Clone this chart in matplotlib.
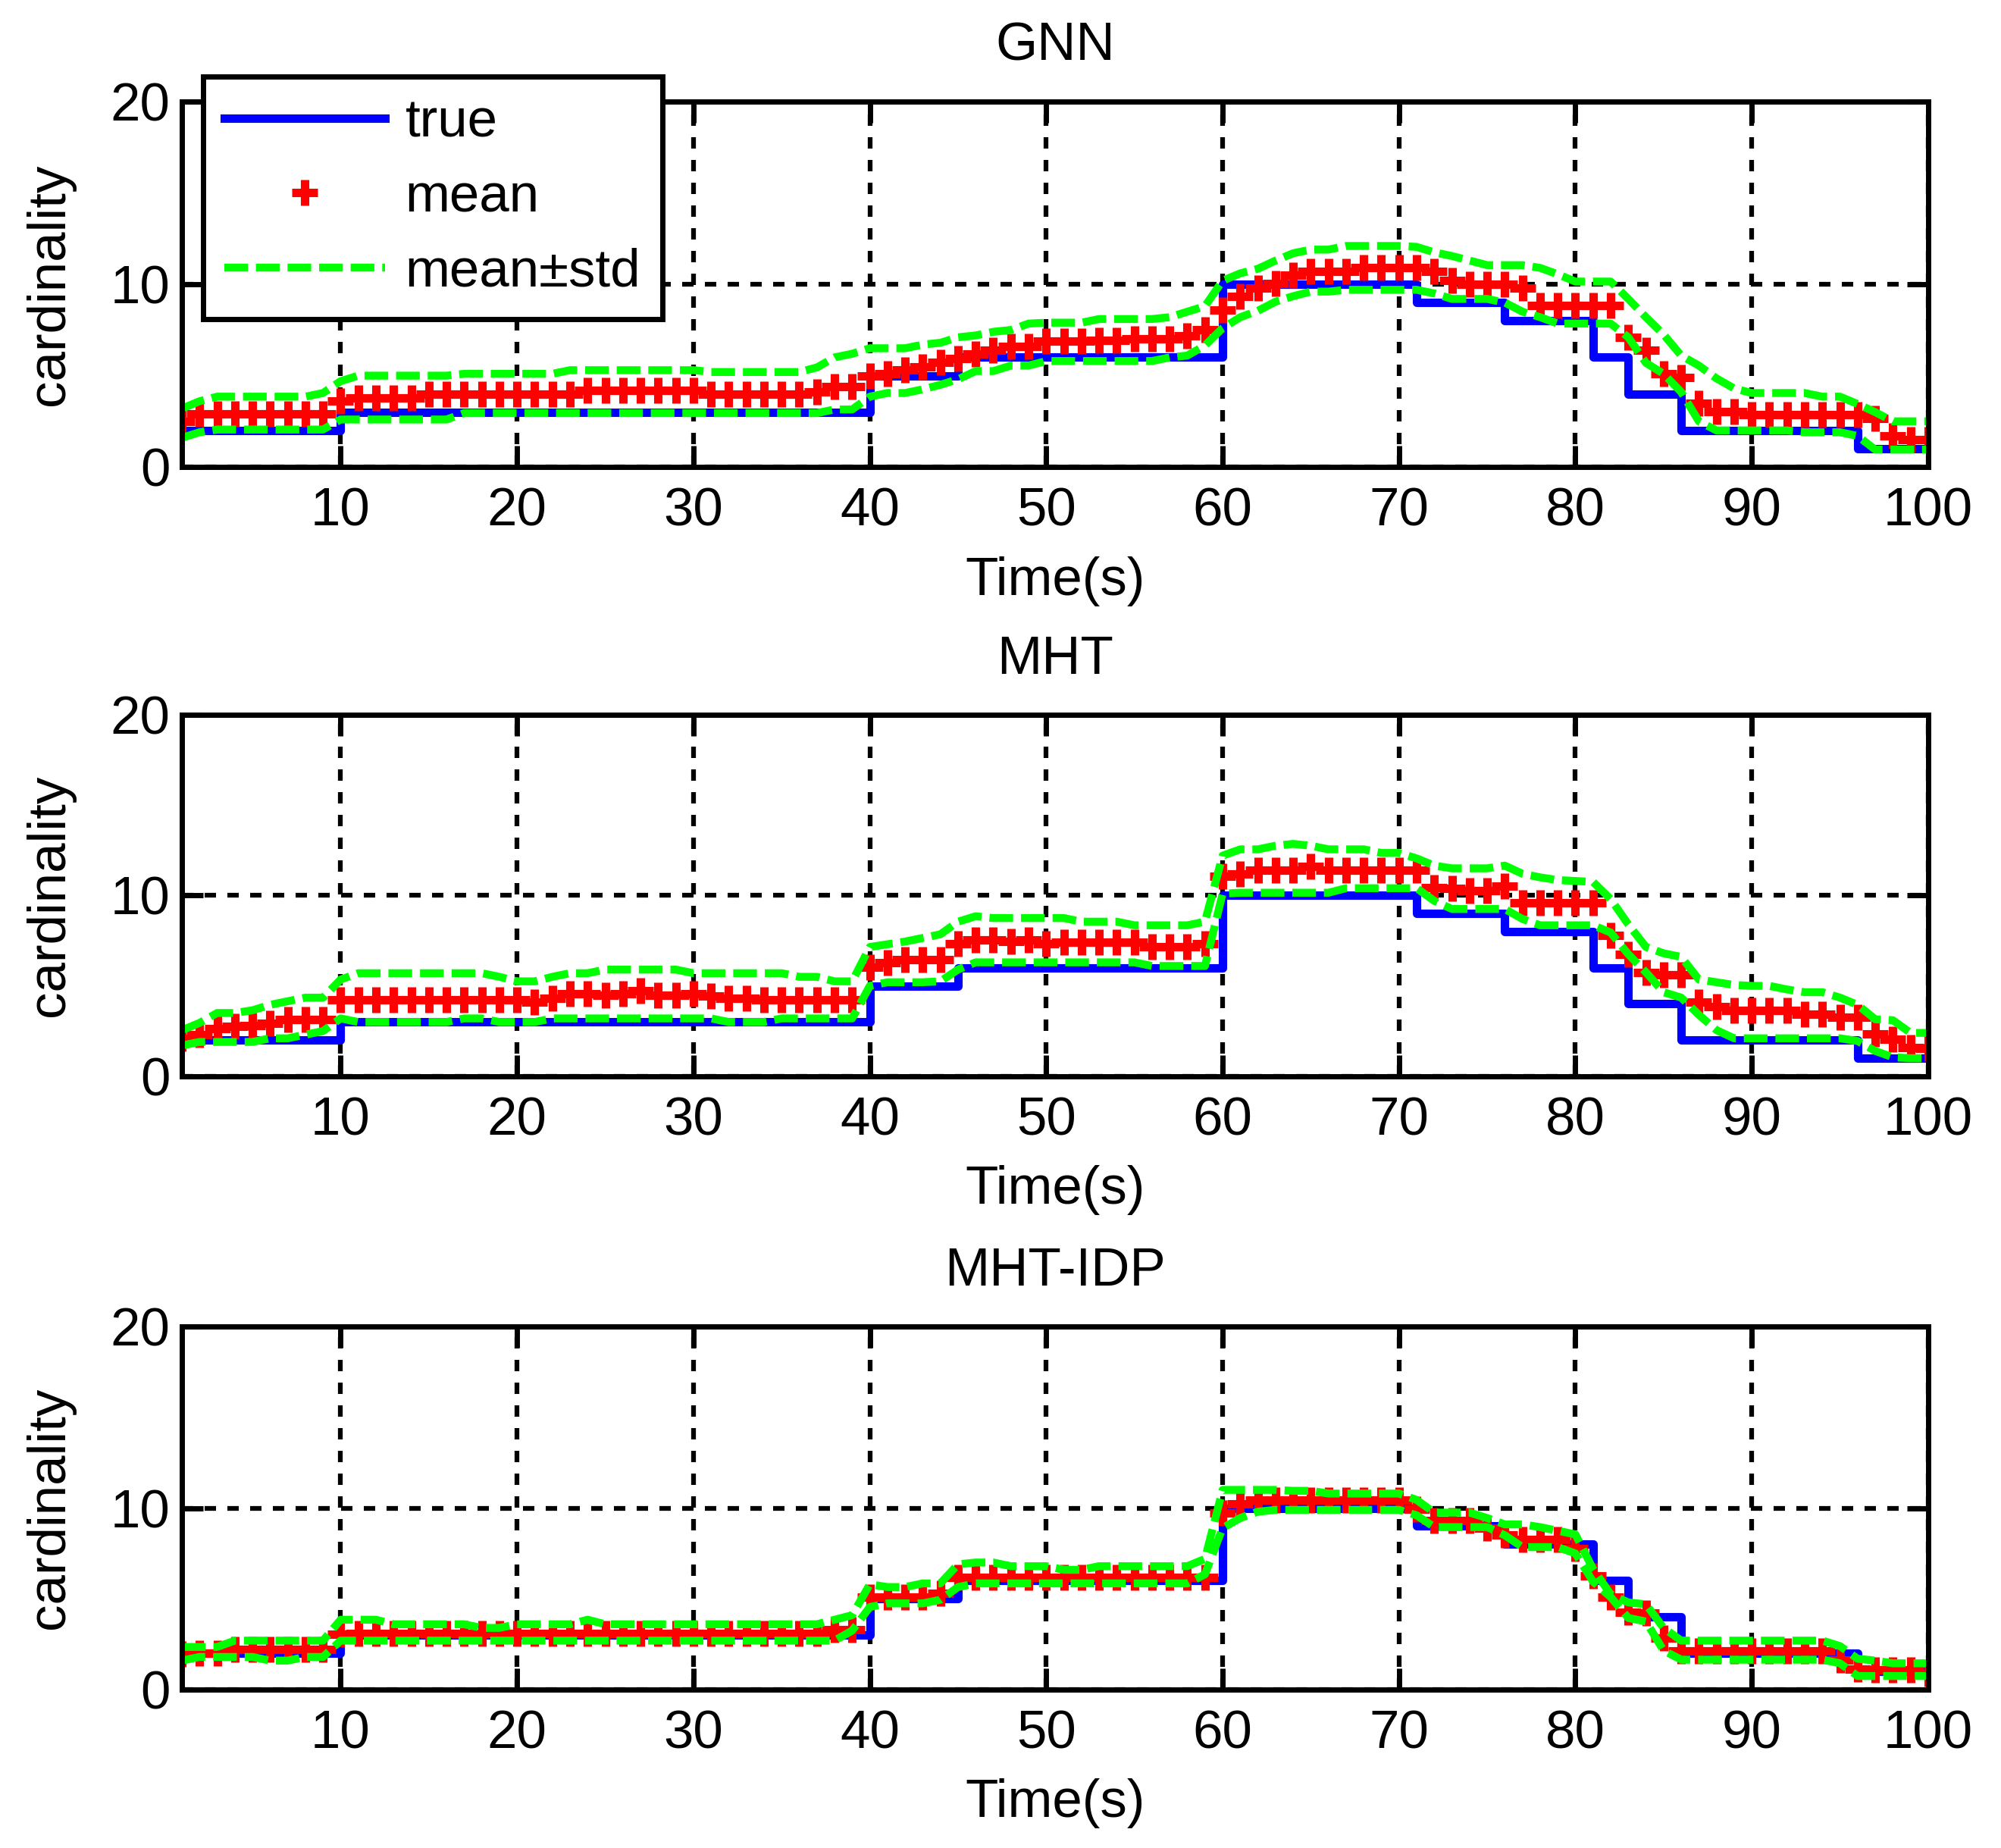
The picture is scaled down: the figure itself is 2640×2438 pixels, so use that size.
import matplotlib
matplotlib.use('Agg')
import matplotlib.pyplot as plt

plt.rcParams['font.family'] = ['Liberation Sans', 'DejaVu Sans']

# time steps (s)
time = list(range(1, 101))

# true cardinality (same ground truth in every panel)
truth = [2, 2, 2, 2, 2, 2, 2, 2, 2, 3,
         3, 3, 3, 3, 3, 3, 3, 3, 3, 3,
         3, 3, 3, 3, 3, 3, 3, 3, 3, 3,
         3, 3, 3, 3, 3, 3, 3, 3, 3, 5,
         5, 5, 5, 5, 6, 6, 6, 6, 6, 6,
         6, 6, 6, 6, 6, 6, 6, 6, 6, 10,
         10, 10, 10, 10, 10, 10, 10, 10, 10, 10,
         9, 9, 9, 9, 9, 8, 8, 8, 8, 8,
         6, 6, 4, 4, 4, 2, 2, 2, 2, 2,
         2, 2, 2, 2, 2, 1, 1, 1, 1, 1]

# GNN
gnn_mean = [2.5, 2.9, 2.9, 2.9, 2.9, 2.9, 2.9, 2.9, 2.9, 3.6,
            3.8, 3.8, 3.8, 3.8, 4.0, 4.0, 4.0, 4.0, 4.0, 4.0,
            4.0, 4.0, 4.0, 4.2, 4.2, 4.2, 4.2, 4.2, 4.2, 4.2,
            4.0, 4.0, 4.0, 4.0, 4.0, 4.0, 4.1, 4.4, 4.4, 5.0,
            5.1, 5.3, 5.5, 5.75, 5.95, 6.2, 6.4, 6.6, 6.6, 6.9,
            6.9, 6.9, 6.95, 6.95, 7.0, 7.0, 7.0, 7.2, 7.5, 8.6,
            9.35, 9.8, 10.05, 10.5, 10.7, 10.7, 10.7, 10.9, 10.9, 10.9,
            10.9, 10.7, 10.2, 10.0, 10.0, 10.0, 9.8, 8.85, 8.85, 8.85,
            8.85, 8.85, 7.1, 6.4, 5.1, 4.9, 3.5, 3.05, 3.05, 2.85,
            2.85, 2.85, 2.85, 2.85, 2.85, 2.85, 2.65, 1.7, 1.5, 1.5]
gnn_upper = [3.2, 3.6, 3.85, 3.85, 3.85, 3.85, 3.85, 3.85, 4.05, 4.7,
             5.0, 5.0, 5.0, 5.0, 5.0, 5.0, 5.1, 5.1, 5.1, 5.1,
             5.1, 5.1, 5.3, 5.3, 5.3, 5.3, 5.3, 5.3, 5.3, 5.3,
             5.2, 5.2, 5.2, 5.2, 5.2, 5.2, 5.45, 6.0, 6.2, 6.5,
             6.5, 6.5, 6.7, 6.8, 7.1, 7.2, 7.4, 7.5, 7.85, 7.9,
             7.9, 7.9, 8.1, 8.1, 8.1, 8.1, 8.2, 8.5, 8.8, 10.2,
             10.6, 10.85, 11.3, 11.7, 11.9, 11.9, 12.1, 12.1, 12.1, 12.1,
             12.05, 11.75, 11.55, 11.3, 11.05, 11.05, 11.05, 10.9, 10.55, 10.15,
             10.15, 10.15, 9.2, 8.2, 7.25, 6.1, 5.55, 4.85, 4.3, 4.05,
             4.05, 4.05, 4.05, 3.85, 3.85, 3.45, 3.0, 2.5, 2.5, 2.5]
gnn_lower = [1.6, 1.9, 2.05, 2.05, 2.05, 2.05, 2.05, 2.05, 2.05, 2.6,
             2.6, 2.6, 2.6, 2.6, 2.6, 2.6, 2.95, 2.95, 2.95, 2.95,
             2.95, 2.95, 2.95, 2.95, 2.95, 2.95, 2.95, 2.95, 2.95, 2.95,
             2.95, 2.95, 2.95, 2.95, 2.95, 2.95, 2.95, 3.15, 3.15, 3.85,
             4.05, 4.05, 4.25, 4.5, 4.8, 5.25, 5.25, 5.55, 5.55, 5.8,
             5.8, 5.8, 5.8, 5.8, 5.8, 5.8, 6.0, 6.1, 6.65, 7.6,
             8.2, 8.55, 9.05, 9.35, 9.6, 9.6, 9.7, 9.7, 9.7, 9.7,
             9.7, 9.5, 9.2, 9.2, 9.2, 9.0, 8.5, 8.2, 7.85, 7.85,
             7.85, 7.85, 7.1, 5.7, 5.1, 4.1, 2.5, 2.0, 2.0, 2.0,
             2.0, 2.0, 1.9, 1.9, 1.9, 1.7, 0.95, 0.95, 0.95, 0.95]

# MHT
mht_mean = [2.1, 2.3, 2.65, 2.75, 2.8, 2.95, 3.15, 3.15, 3.15, 4.25,
            4.25, 4.25, 4.25, 4.25, 4.25, 4.25, 4.25, 4.25, 4.25, 4.25,
            4.1, 4.3, 4.55, 4.55, 4.5, 4.55, 4.75, 4.5, 4.5, 4.55,
            4.45, 4.3, 4.3, 4.25, 4.25, 4.25, 4.25, 4.25, 4.25, 6.05,
            6.3, 6.45, 6.45, 6.45, 7.35, 7.55, 7.55, 7.45, 7.55, 7.35,
            7.4, 7.4, 7.4, 7.4, 7.4, 7.15, 7.15, 7.15, 7.35, 11.05,
            11.2, 11.4, 11.4, 11.4, 11.6, 11.4, 11.4, 11.4, 11.4, 11.4,
            11.4, 10.45, 10.4, 10.25, 10.25, 10.5, 9.6, 9.6, 9.6, 9.6,
            9.6, 7.8, 6.75, 5.75, 5.6, 5.6, 4.1, 3.85, 3.65, 3.65,
            3.65, 3.65, 3.45, 3.45, 3.25, 3.25, 2.35, 2.05, 1.6, 1.55]
mht_upper = [2.55, 2.95, 3.5, 3.5, 3.65, 3.95, 4.15, 4.35, 4.35, 5.35,
             5.7, 5.7, 5.7, 5.7, 5.7, 5.7, 5.7, 5.7, 5.5, 5.25,
             5.25, 5.5, 5.7, 5.7, 5.9, 5.9, 5.9, 5.9, 5.9, 5.7,
             5.7, 5.7, 5.7, 5.7, 5.7, 5.5, 5.5, 5.25, 5.25, 7.15,
             7.3, 7.45, 7.65, 7.85, 8.55, 8.85, 8.75, 8.75, 8.75, 8.75,
             8.75, 8.55, 8.55, 8.55, 8.35, 8.35, 8.35, 8.35, 8.55, 12.2,
             12.55, 12.55, 12.75, 12.85, 12.75, 12.55, 12.55, 12.55, 12.35, 12.35,
             12.05, 11.65, 11.5, 11.5, 11.5, 11.65, 11.2, 11.0, 10.85, 10.8,
             10.75, 9.8, 8.4, 7.15, 6.8, 6.6, 5.35, 5.2, 5.05, 5.0,
             5.0, 4.8, 4.65, 4.65, 4.35, 3.95, 3.15, 3.1, 2.4, 2.4]
mht_lower = [1.7, 1.9, 1.9, 1.9, 1.9, 2.1, 2.1, 2.3, 2.5, 3.2,
             3.0, 3.0, 3.0, 3.0, 3.0, 3.0, 3.2, 3.2, 3.0, 3.0,
             3.0, 3.2, 3.2, 3.2, 3.2, 3.2, 3.2, 3.2, 3.2, 3.2,
             3.2, 3.0, 3.0, 3.0, 3.2, 3.2, 3.2, 3.2, 3.2, 5.0,
             5.2, 5.2, 5.2, 5.25, 5.9, 6.3, 6.3, 6.3, 6.3, 6.3,
             6.3, 6.3, 6.3, 6.3, 6.3, 6.1, 6.1, 6.1, 6.1, 10.1,
             10.15, 10.15, 10.15, 10.15, 10.15, 10.15, 10.4, 10.4, 10.4, 10.4,
             10.4, 9.7, 9.25, 9.25, 9.25, 9.25, 8.7, 8.35, 8.35, 8.35,
             8.35, 7.95, 6.75, 5.75, 4.65, 4.35, 3.4, 2.55, 2.1, 2.1,
             2.1, 2.1, 2.1, 2.1, 2.1, 1.95, 1.4, 1.05, 1.0, 1.0]

# MHT-IDP
idp_mean = [1.95, 2.0, 2.0, 2.2, 2.2, 2.2, 2.2, 2.2, 2.2, 3.05,
            3.1, 3.1, 3.1, 3.1, 3.1, 3.1, 3.1, 3.1, 3.1, 3.1,
            3.1, 3.1, 3.1, 3.1, 3.1, 3.1, 3.1, 3.1, 3.1, 3.1,
            3.1, 3.1, 3.1, 3.1, 3.1, 3.1, 3.1, 3.3, 3.3, 5.1,
            5.1, 5.1, 5.1, 5.3, 6.2, 6.2, 6.2, 6.2, 6.2, 6.2,
            6.2, 6.2, 6.2, 6.2, 6.2, 6.2, 6.2, 6.2, 6.2, 9.75,
            10.25, 10.45, 10.45, 10.45, 10.45, 10.45, 10.45, 10.45, 10.45, 10.45,
            9.95, 9.3, 9.3, 9.3, 8.9, 8.5, 8.25, 8.25, 8.25, 7.75,
            6.25, 5.1, 4.25, 4.2, 2.85, 2.15, 2.15, 2.15, 2.15, 2.15,
            2.15, 2.15, 2.15, 2.15, 1.65, 1.15, 1.1, 1.1, 1.1, 0.9]
idp_upper = [2.35, 2.35, 2.35, 2.7, 2.7, 2.7, 2.7, 2.7, 2.7, 3.85,
             3.85, 3.85, 3.6, 3.6, 3.6, 3.6, 3.6, 3.4, 3.4, 3.6,
             3.6, 3.6, 3.6, 3.85, 3.6, 3.6, 3.6, 3.6, 3.6, 3.6,
             3.6, 3.6, 3.6, 3.6, 3.6, 3.6, 3.6, 3.85, 4.1, 5.8,
             5.65, 5.65, 5.85, 5.85, 6.9, 7.0, 7.0, 6.8, 6.8, 6.8,
             6.6, 6.6, 6.8, 6.8, 6.8, 6.8, 6.8, 6.8, 7.2, 11.0,
             11.0, 11.0, 11.0, 10.95, 10.95, 10.8, 10.8, 10.8, 10.8, 10.8,
             10.45, 9.75, 9.75, 9.75, 9.45, 9.1, 9.1, 8.95, 8.75, 8.55,
             6.65, 5.25, 4.8, 4.7, 3.4, 2.7, 2.7, 2.7, 2.7, 2.7,
             2.7, 2.7, 2.7, 2.7, 2.4, 1.7, 1.6, 1.45, 1.45, 1.45]
idp_lower = [1.6, 1.8, 1.8, 1.8, 1.8, 1.6, 1.6, 1.8, 1.8, 2.7,
             2.7, 2.7, 2.7, 2.7, 2.7, 2.7, 2.7, 2.7, 2.7, 2.7,
             2.7, 2.7, 2.7, 2.7, 2.7, 2.7, 2.7, 2.7, 2.7, 2.7,
             2.7, 2.7, 2.7, 2.7, 2.7, 2.7, 2.7, 2.7, 3.25, 4.55,
             4.75, 4.75, 4.75, 4.95, 5.65, 5.85, 5.85, 5.85, 5.85, 5.85,
             5.85, 5.85, 5.85, 5.85, 5.85, 5.85, 5.85, 5.85, 6.35, 8.9,
             9.45, 9.8, 9.9, 9.9, 9.9, 9.9, 9.9, 9.9, 9.9, 9.9,
             9.6, 8.95, 8.95, 8.95, 8.95, 8.5, 7.85, 7.85, 7.85, 7.5,
             5.95, 5.1, 3.95, 3.75, 2.15, 1.65, 1.65, 1.65, 1.65, 1.65,
             1.65, 1.65, 1.65, 1.65, 1.45, 0.75, 0.75, 0.75, 0.75, 0.75]

panels = [('GNN', gnn_mean, gnn_upper, gnn_lower),
          ('MHT', mht_mean, mht_upper, mht_lower),
          ('MHT-IDP', idp_mean, idp_upper, idp_lower)]

# axes boxes [left, bottom, width, height] in figure fractions
boxes = [[0.0909, 0.7473, 0.8727, 0.1977],
         [0.0909, 0.4176, 0.8727, 0.1957],
         [0.0909, 0.0857, 0.8727, 0.1965]]

fs = 51
fig = plt.figure(figsize=(26.4, 24.38), dpi=100)

for k, (name, mean, upper, lower) in enumerate(panels):
    ax = fig.add_axes(boxes[k])
    ax.step(time, truth, where='post', color='#0000ff', lw=8, label='true')
    ax.plot(time, mean, ls='none', marker='+', ms=24, mew=8, color='#ff0000', label='mean')
    ax.plot(time, upper, color='#00ff00', lw=7.5, ls=(0, (3.0, 1.0)), label='mean\u00b1std')
    ax.plot(time, lower, color='#00ff00', lw=7.5, ls=(0, (3.0, 1.0)), label='_nolegend_')

    ax.set_xlim(1, 100)
    ax.set_ylim(0, 20)
    ax.set_xticks(range(10, 101, 10))
    ax.set_yticks([0, 10, 20])
    ax.set_axisbelow(True)
    ax.grid(True, color='k', lw=4.5, ls=(0, (2.4, 2.4)))
    ax.tick_params(direction='in', length=20, width=5, top=True, right=True, labelsize=fs)
    ax.tick_params(axis='x', pad=19)
    ax.tick_params(axis='y', pad=11)
    for sp in ax.spines.values():
        sp.set_linewidth(5)

    ax.set_title(name, fontsize=fs, pad=39)
    ax.set_xlabel('Time(s)', fontsize=fs)
    ax.xaxis.set_label_coords(0.5, -0.245)
    ax.set_ylabel('cardinality', fontsize=fs)
    ax.yaxis.set_label_coords(-0.061, 0.5)

    if k == 0:
        leg = ax.legend(loc='upper left', bbox_to_anchor=(0.012, 1.068), fontsize=fs,
                        numpoints=1, handlelength=3.0, handletextpad=0.37,
                        labelspacing=0.46, borderpad=0.4, borderaxespad=0,
                        fancybox=False, framealpha=1, edgecolor='k')
        leg.get_frame().set_linewidth(5)

plt.savefig('out.png', dpi=100)
